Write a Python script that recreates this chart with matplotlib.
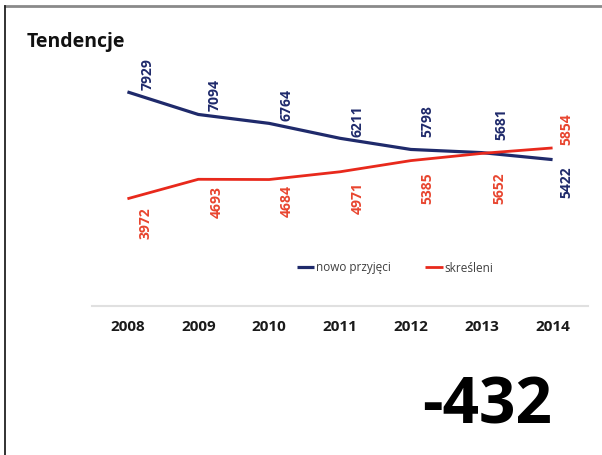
import matplotlib
matplotlib.use("Agg")
import matplotlib.pyplot as plt
from matplotlib.lines import Line2D

plt.rcParams['font.family'] = ['Open Sans', 'DejaVu Sans']

years = ["2008", "2009", "2010", "2011", "2012", "2013", "2014"]
nowo_przyjeci = [7929, 7094, 6764, 6211, 5798, 5681, 5422]
skresleni = [3972, 4693, 4684, 4971, 5385, 5652, 5854]
series_names = ["nowo przyjęci", "skreśleni"]
title = "Tendencje"
big_number = "-432"

# label placement (pixels): x offset, vertical gap (+ above / - below)
blue_dx = [20, 16, 17, 17, 17, 20, 14]
blue_dy = [2, 3, 2, 1, 12, 13, -7]
red_dx = [18, 18, 18, 18, 17, 18, 14]
red_dy = [-8, -7, -5, -10, -12, -19, 3]

BLUE = "#1F2A6B"
RED = "#E8291C"
RED_TXT = "#E8452F"

W, H = 602, 455
fig = plt.figure(figsize=(W / 100, H / 100), dpi=100)
ax = fig.add_axes([92 / W, (H - 306) / H, (588 - 92) / W, (306 - 63) / H])

x = list(range(len(years)))
l1, = ax.plot(x, nowo_przyjeci, color=BLUE, lw=2.3, solid_joinstyle='round', solid_capstyle='butt')
l2, = ax.plot(x, skresleni, color=RED, lw=2.0, solid_joinstyle='round', solid_capstyle='butt')

ax.set_xlim(-0.5, len(years) - 0.5)
ax.set_ylim(0, 9000)
ax.set_yticks([])
ax.set_xticks(x)
ax.set_xticklabels(years, fontsize=11, fontweight='bold', color='#1a1a1a')
ax.tick_params(axis='x', length=0, pad=10)
for s in ['top', 'right', 'left']:
    ax.spines[s].set_visible(False)
ax.spines['bottom'].set_color('#e0e0e0')
ax.spines['bottom'].set_linewidth(1.5)

def put_labels(vals, dxs, dys, color):
    for i, (v, dx, dy) in enumerate(zip(vals, dxs, dys)):
        ax.annotate(str(v), xy=(i, v), xytext=(dx * 0.72, dy * 0.72),
                    textcoords='offset points', rotation=90, ha='center',
                    va='bottom' if dy > 0 else 'top', fontsize=10,
                    fontweight='bold', color=color)

put_labels(nowo_przyjeci, blue_dx, blue_dy, BLUE)
put_labels(skresleni, red_dx, red_dy, RED_TXT)

ax.legend([l1, l2], series_names, loc='center',
          bbox_to_anchor=(395 / W, 1 - 268 / H), bbox_transform=fig.transFigure,
          ncol=2, frameon=False, fontsize=8.5, handlelength=1.5,
          handletextpad=0.15, columnspacing=2.9, borderpad=0,
          labelcolor='#404040')

fig.text(27 / W, 1 - 47 / H, title, ha='left', va='baseline', fontsize=14,
         fontweight='bold', color='#111111')
fig.text(552 / W, 1 - 423 / H, big_number, ha='right', va='baseline',
         fontsize=46, fontweight='bold', color='#000000')

# frame lines
fig.add_artist(Line2D([5 / W, 1], [1 - 6 / H, 1 - 6 / H], transform=fig.transFigure,
                      color='#8a8a8a', lw=2))
fig.add_artist(Line2D([5 / W, 5 / W], [0, 1 - 6 / H], transform=fig.transFigure,
                      color='#222222', lw=1.3))

fig.savefig("out.png", dpi=100)
